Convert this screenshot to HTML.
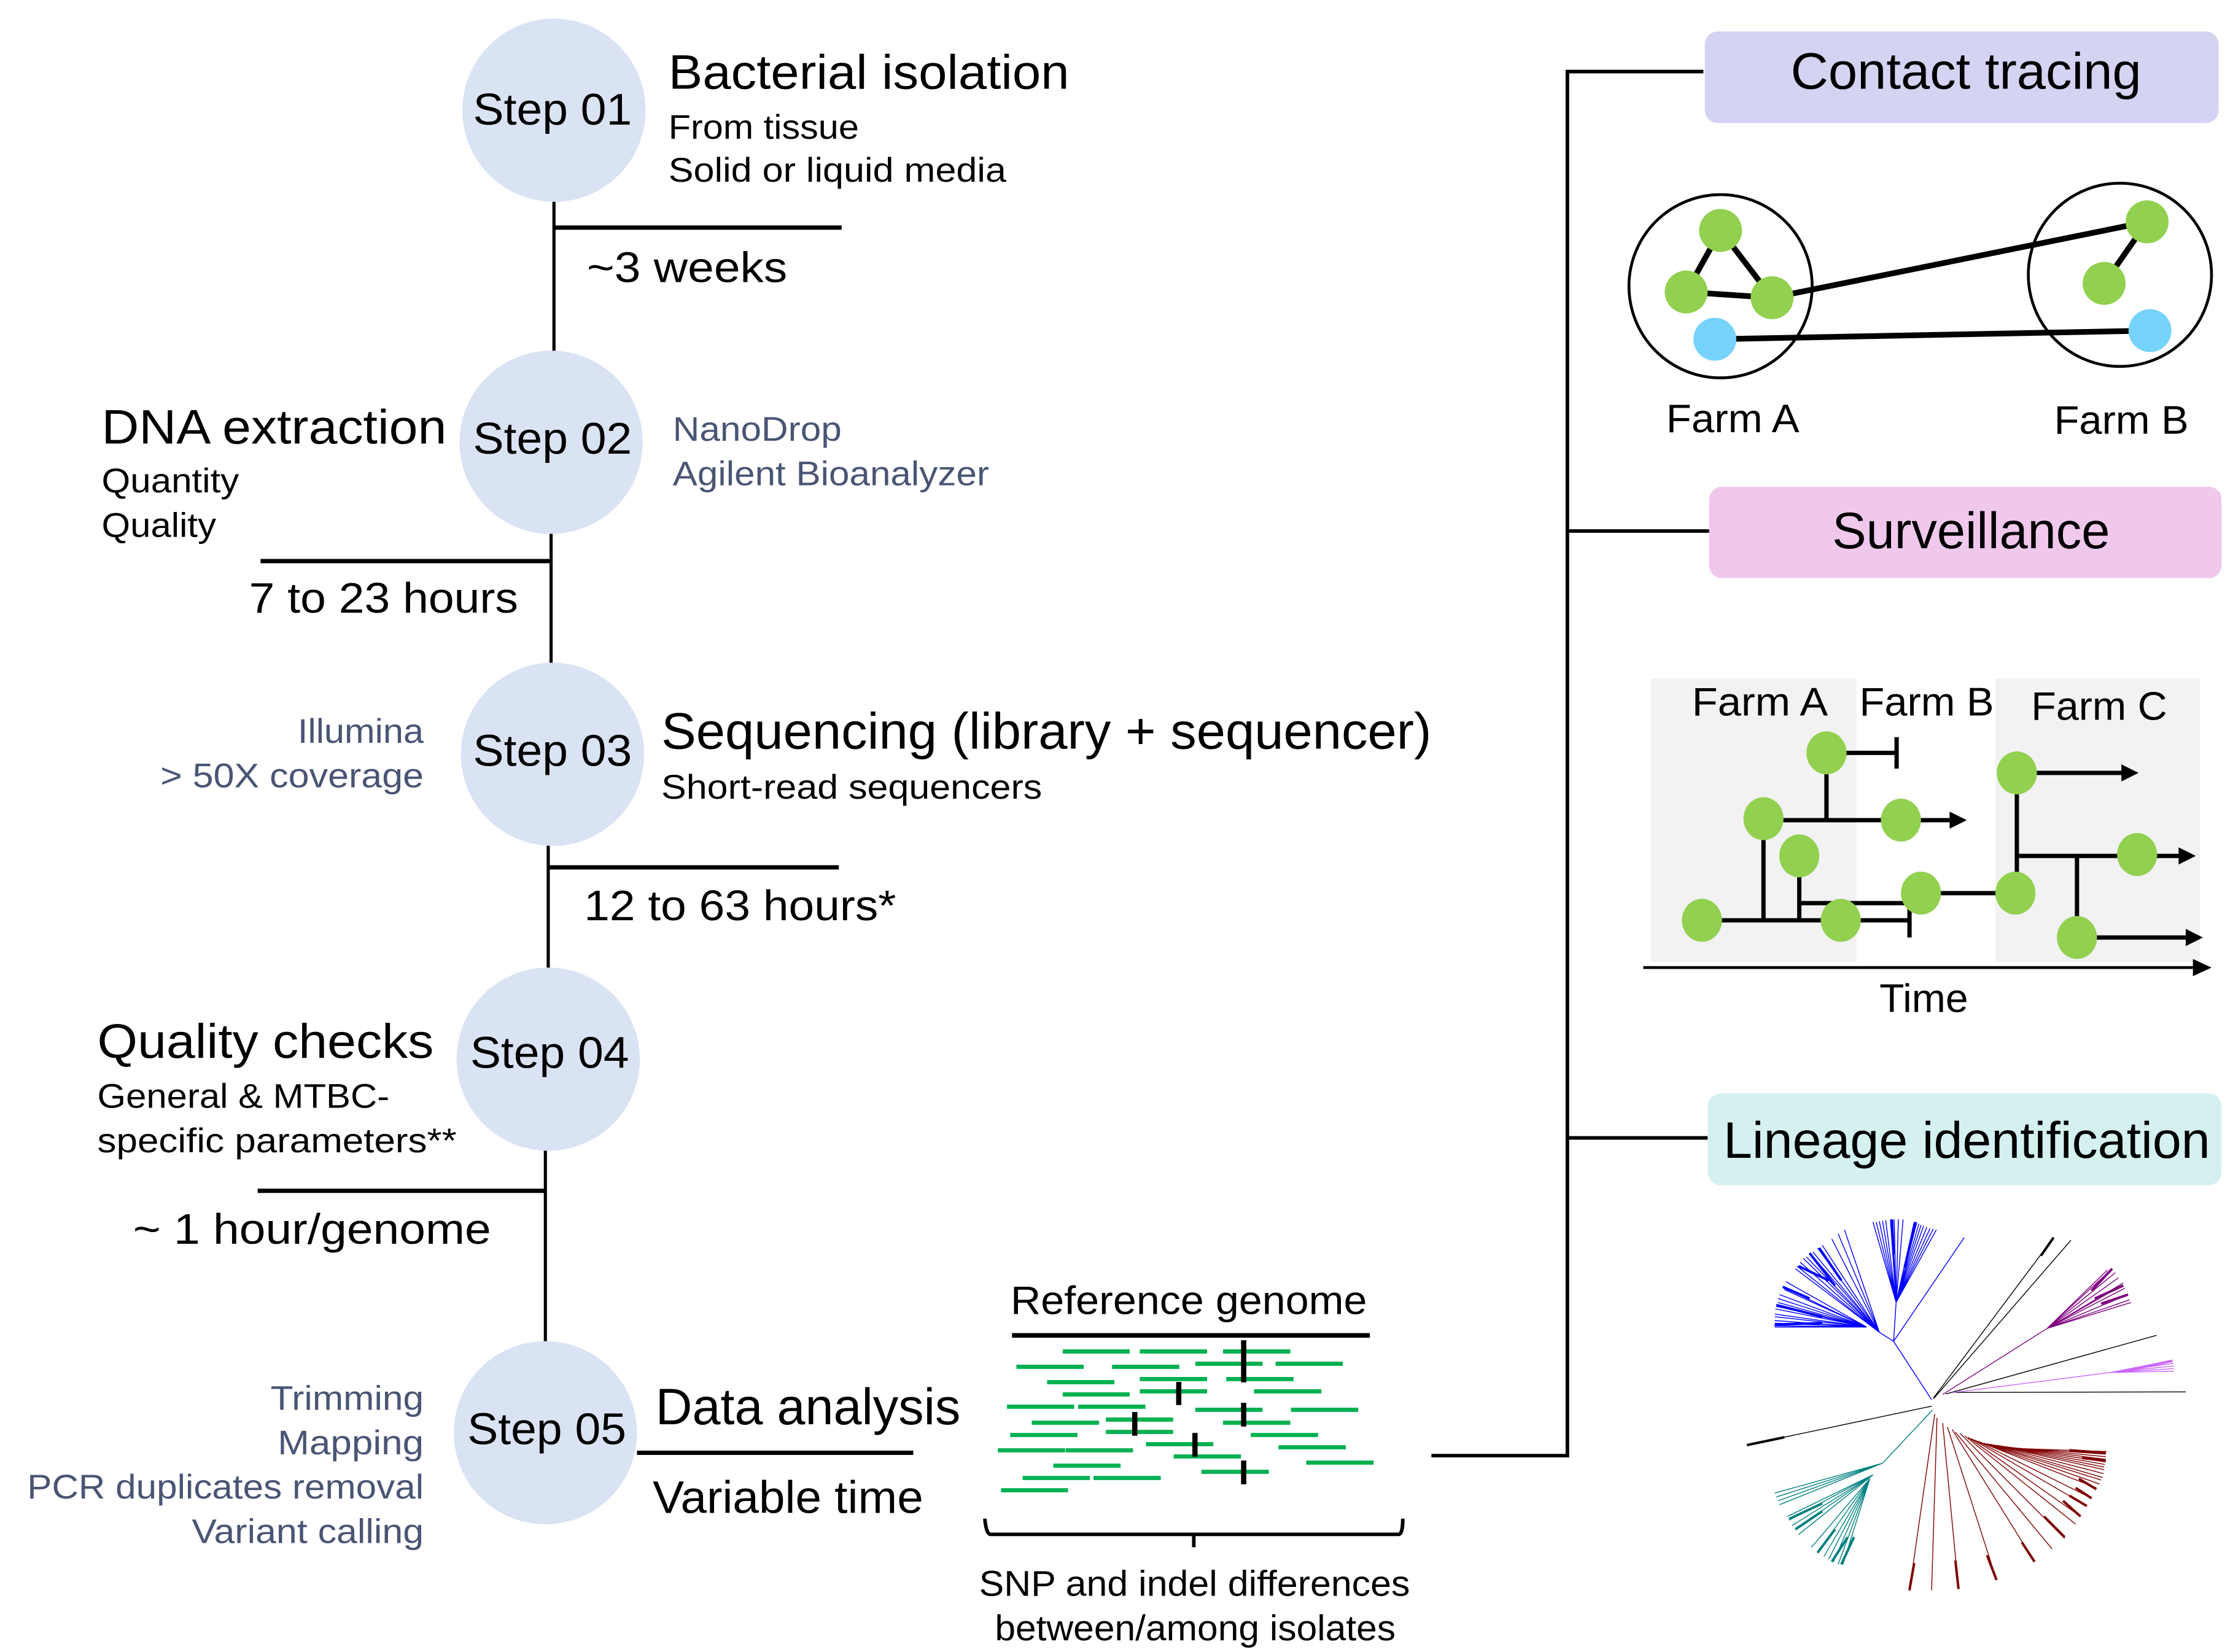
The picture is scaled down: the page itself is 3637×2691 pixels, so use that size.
<!DOCTYPE html>
<html><head><meta charset="utf-8"><style>
html,body{margin:0;padding:0;background:#fff;}
svg{display:block;}
text{font-family:"Liberation Sans",sans-serif;fill:#000;}
.sub{fill:#4a5575;}
</style></head><body>
<svg width="3637" height="2691" viewBox="0 0 1560 1154.2" preserveAspectRatio="none" xmlns="http://www.w3.org/2000/svg">
<rect width="1560" height="1155" fill="#fff"/>
<g stroke="#000" stroke-width="2.2" fill="none">
<line x1="387" y1="140" x2="387" y2="246"/>
<line x1="385" y1="372" x2="385" y2="464"/>
<line x1="383" y1="590" x2="383" y2="677"/>
<line x1="381" y1="803" x2="381" y2="938"/>
</g>
<g stroke="#000" stroke-width="3" fill="none">
<line x1="387" y1="159" x2="588" y2="159"/>
<line x1="182" y1="392" x2="385" y2="392"/>
<line x1="383" y1="606" x2="586" y2="606"/>
<line x1="180" y1="832" x2="381" y2="832"/>
<line x1="445" y1="1015" x2="638" y2="1015"/>
</g>
<g fill="#dae3f3">
<circle cx="387" cy="77" r="64"/>
<circle cx="385" cy="309" r="64"/>
<circle cx="386" cy="527" r="64"/>
<circle cx="383" cy="740" r="64"/>
<circle cx="381" cy="1001" r="64"/>
</g>
<g font-size="31" text-anchor="middle" lengthAdjust="spacingAndGlyphs">
<text x="386" y="87" textLength="111" lengthAdjust="spacingAndGlyphs">Step 01</text>
<text x="386" y="317" textLength="111" lengthAdjust="spacingAndGlyphs">Step 02</text>
<text x="386" y="535" textLength="111" lengthAdjust="spacingAndGlyphs">Step 03</text>
<text x="384" y="746" textLength="111" lengthAdjust="spacingAndGlyphs">Step 04</text>
<text x="382" y="1009" textLength="111" lengthAdjust="spacingAndGlyphs">Step 05</text>
</g>
<text x="467" y="62" font-size="34" textLength="280" lengthAdjust="spacingAndGlyphs">Bacterial isolation</text>
<text x="467" y="97" font-size="24" textLength="133" lengthAdjust="spacingAndGlyphs">From tissue</text>
<text x="467" y="127" font-size="24" textLength="236" lengthAdjust="spacingAndGlyphs">Solid or liquid media</text>
<text x="410" y="197" font-size="30" textLength="140" lengthAdjust="spacingAndGlyphs">~3 weeks</text>
<text x="71" y="310" font-size="34" textLength="241" lengthAdjust="spacingAndGlyphs">DNA extraction</text>
<text x="71" y="344" font-size="24" textLength="96" lengthAdjust="spacingAndGlyphs">Quantity</text>
<text x="71" y="375" font-size="24" textLength="80" lengthAdjust="spacingAndGlyphs">Quality</text>
<text x="470" y="308" font-size="24" class="sub" textLength="118" lengthAdjust="spacingAndGlyphs">NanoDrop</text>
<text x="470" y="339" font-size="24" class="sub" textLength="221" lengthAdjust="spacingAndGlyphs">Agilent Bioanalyzer</text>
<text x="174" y="428" font-size="30" textLength="188" lengthAdjust="spacingAndGlyphs">7 to 23 hours</text>
<text x="208" y="519" font-size="24" class="sub" textLength="88" lengthAdjust="spacingAndGlyphs">Illumina</text>
<text x="112" y="550" font-size="24" class="sub" textLength="184" lengthAdjust="spacingAndGlyphs">&gt; 50X coverage</text>
<text x="462" y="523" font-size="36" textLength="538" lengthAdjust="spacingAndGlyphs">Sequencing (library + sequencer)</text>
<text x="462" y="558" font-size="24" textLength="266" lengthAdjust="spacingAndGlyphs">Short-read sequencers</text>
<text x="408" y="643" font-size="30" textLength="218" lengthAdjust="spacingAndGlyphs">12 to 63 hours*</text>
<text x="68" y="739" font-size="34" textLength="235" lengthAdjust="spacingAndGlyphs">Quality checks</text>
<text x="68" y="774" font-size="24" textLength="204" lengthAdjust="spacingAndGlyphs">General &amp; MTBC-</text>
<text x="68" y="805" font-size="24" textLength="251" lengthAdjust="spacingAndGlyphs">specific parameters**</text>
<text x="93" y="869" font-size="30" textLength="250" lengthAdjust="spacingAndGlyphs">~ 1 hour/genome</text>
<g font-size="24">
<text x="189" y="985" class="sub" textLength="107" lengthAdjust="spacingAndGlyphs">Trimming</text>
<text x="194" y="1016" class="sub" textLength="102" lengthAdjust="spacingAndGlyphs">Mapping</text>
<text x="19" y="1047" class="sub" textLength="277" lengthAdjust="spacingAndGlyphs">PCR duplicates removal</text>
<text x="134" y="1078" class="sub" textLength="162" lengthAdjust="spacingAndGlyphs">Variant calling</text>
</g>
<text x="458" y="995" font-size="36" textLength="213" lengthAdjust="spacingAndGlyphs">Data analysis</text>
<text x="456" y="1057" font-size="32" textLength="189" lengthAdjust="spacingAndGlyphs">Variable time</text>
<text x="706" y="918" font-size="28" textLength="249" lengthAdjust="spacingAndGlyphs">Reference genome</text>
<line x1="707" y1="933" x2="957" y2="933" stroke="#000" stroke-width="3.2"/>
<g transform="translate(677.7,879.3) scale(0.2062,0.143)" stroke="#00b050" stroke-width="6.8" fill="none">
<path vector-effect="non-scaling-stroke" d="M314 454H541M575 454H803M857 454H1085M157 529H385M481 529H709M763 514H991M1035 514H1263M261 604H489M575 589H803M868 589H1096M314 664H541M575 649H803M962 649H1190M125 724H353M366 724H594M763 739H991M1087 739H1315M209 802H437M460 787H688M857 802H1085M136 862H364M460 847H688M951 862H1179M596 907H824M94 937H322M324 937H552M1045 922H1273M690 967H918M282 1012H510M1139 997H1367M784 1042H1012M178 1072H406M418 1072H646M105 1132H332"/>
<path vector-effect="non-scaling-stroke" stroke="#000" stroke-width="8.5" d="M927 399V605M707 603V716M927 705V821M558 750V866M762 852V968M927 987V1103"/>
</g>
<path d="M688 1061 Q689 1072 692 1072 H977 Q980 1072 980 1061 M834 1072V1081" stroke="#000" stroke-width="2.5" fill="none"/>
<text x="684" y="1115" font-size="25" textLength="301" lengthAdjust="spacingAndGlyphs">SNP and indel differences</text>
<text x="695" y="1146" font-size="25" textLength="280" lengthAdjust="spacingAndGlyphs">between/among isolates</text>
<g stroke="#000" stroke-width="2.5" fill="none">
<path d="M1000 1017H1095V50H1190M1095 371H1195M1095 795H1193"/>
</g>
<rect x="1191" y="22" width="359" height="64" rx="9" fill="#d5d3f2"/>
<text x="1251" y="62" font-size="36" textLength="245" lengthAdjust="spacingAndGlyphs">Contact tracing</text>
<rect x="1194" y="340" width="358" height="64" rx="9" fill="#f0c8ec"/>
<text x="1280" y="383" font-size="36" textLength="194" lengthAdjust="spacingAndGlyphs">Surveillance</text>
<rect x="1193" y="764" width="359" height="64" rx="9" fill="#d4f1f0"/>
<text x="1204" y="809" font-size="36" textLength="340" lengthAdjust="spacingAndGlyphs">Lineage identification</text>
<circle cx="1202" cy="200" r="64" fill="none" stroke="#000" stroke-width="2"/>
<circle cx="1481" cy="192" r="64" fill="none" stroke="#000" stroke-width="2"/>
<g stroke="#000" stroke-width="4" fill="none">
<path d="M1202 161L1178 204M1202 161L1238 208M1178 204L1238 208M1238 208L1500 155M1470 198L1500 155M1198 237L1502 231"/>
</g>
<g fill="#92d050">
<circle cx="1202" cy="161" r="15"/><circle cx="1178" cy="204" r="15"/><circle cx="1238" cy="208" r="15"/>
<circle cx="1500" cy="155" r="15"/><circle cx="1470" cy="198" r="15"/>
</g>
<g fill="#76d3fb"><circle cx="1198" cy="237" r="15"/><circle cx="1502" cy="231" r="15"/></g>
<text x="1164" y="302" font-size="28" textLength="93" lengthAdjust="spacingAndGlyphs">Farm A</text>
<text x="1435" y="303" font-size="28" textLength="94" lengthAdjust="spacingAndGlyphs">Farm B</text>
<rect x="1153" y="474" width="144" height="198" fill="#f2f2f2"/>
<rect x="1394" y="474" width="143" height="198" fill="#f2f2f2"/>
<text x="1182" y="500" font-size="28" textLength="95" lengthAdjust="spacingAndGlyphs">Farm A</text>
<text x="1299" y="500" font-size="28" textLength="94" lengthAdjust="spacingAndGlyphs">Farm B</text>
<text x="1419" y="503" font-size="28" textLength="95" lengthAdjust="spacingAndGlyphs">Farm C</text>
<g stroke="#000" stroke-width="3" fill="none">
<path d="M1276 526H1325M1325 515V537M1232 573H1362M1276 526V573M1232 572V643M1189 643H1334M1334 632V655M1257 598V643M1257 631H1342M1342 624H1408M1409 540V624M1409 540H1482M1409 598H1522M1451 598V655M1451 655H1527"/>
<path d="M1148 676H1532" stroke-width="2"/>
</g>
<g fill="#000">
<path d="M1362 567L1374 573L1362 579Z"/>
<path d="M1482 534L1494 540L1482 546Z"/>
<path d="M1522 592L1534 598L1522 604Z"/>
<path d="M1527 649L1539 655L1527 661Z"/>
<path d="M1532 670L1545 676L1532 682Z"/>
</g>
<g fill="#92d050">
<ellipse cx="1276" cy="526" rx="14" ry="15"/><ellipse cx="1232" cy="572" rx="14" ry="15"/>
<ellipse cx="1328" cy="573" rx="14" ry="15"/><ellipse cx="1257" cy="598" rx="14" ry="15"/>
<ellipse cx="1342" cy="624" rx="14" ry="15"/><ellipse cx="1189" cy="643" rx="14" ry="15"/>
<ellipse cx="1286" cy="643" rx="14" ry="15"/><ellipse cx="1409" cy="540" rx="14" ry="15"/>
<ellipse cx="1493" cy="597" rx="14" ry="15"/><ellipse cx="1408" cy="624" rx="14" ry="15"/>
<ellipse cx="1451" cy="655" rx="14" ry="15"/>
</g>
<text x="1313" y="707" font-size="28" textLength="62" lengthAdjust="spacingAndGlyphs">Time</text>
<g transform="translate(1206.7,840.2) scale(0.2213,0.1812)" fill="none" stroke-width="1.4">
<path vector-effect="non-scaling-stroke" stroke="#0000ff" d="M645 760L525 535M525 535L748 135M525 535L533 385M533 385L460 75M533 385L470 75M533 385L480 72M533 385L490 70M533 385L500 68M533 385L515 65M533 385L520 65M533 385L527 65M533 385L540 65M533 385L555 65M533 385L590 75M533 385L598 78M533 385L605 82M533 385L612 86M533 385L620 90M533 385L630 95M533 385L640 100M533 385L650 102M533 385L660 105M525 535L480 500M480 500L370 105M480 500L350 120M480 500L330 140M480 500L300 165M480 500L285 175M480 500L270 190M480 500L260 195M480 500L250 210M480 500L240 215M480 500L230 230M480 500L220 245M480 500L215 255M440 480L185 305M440 480L175 325M440 480L180 335M440 480L165 355M440 480L160 370M440 480L160 385M440 480L155 395M440 480L155 400M440 480L152 410M440 480L150 430M440 480L150 440M440 480L150 455M440 480L150 465M440 480L148 475M440 480L150 480"/>
<path vector-effect="non-scaling-stroke" stroke="#0000ff" stroke-width="4" d="M155 395L300 440M150 470L300 465M175 325L260 370M290 175L360 300M260 195L340 320M225 245L320 300M520 65L525 200M595 75L560 250"/>
<path vector-effect="non-scaling-stroke" stroke="#000" d="M650 755L1030 135M652 755L1085 145M690 738L1355 512M720 732L1447 730M645 785L62 935"/>
<path vector-effect="non-scaling-stroke" stroke="#000" stroke-width="4" d="M62 935L180 905M1030 135L990 205"/>
<path vector-effect="non-scaling-stroke" stroke="#800080" d="M680 740L1010 485M1010 485L1200 260M1010 485L1215 255M1010 485L1225 270M1010 485L1235 290M1010 485L1245 320M1010 485L1250 310M1010 485L1255 330M1010 485L1265 355M1010 485L1270 375M1010 485L1275 385"/>
<path vector-effect="non-scaling-stroke" stroke="#800080" stroke-width="4" d="M1215 255L1150 340M1250 320L1160 370M1265 355L1180 390"/>
<path vector-effect="non-scaling-stroke" stroke="#cc66ff" d="M715 732L1210 655M1210 655L1405 608M1210 655L1408 620M1210 655L1410 630M1210 655L1410 640M1210 655L1410 650"/>
<path vector-effect="non-scaling-stroke" stroke="#cc66ff" stroke-width="4" d="M1405 610L1260 648"/>
<path vector-effect="non-scaling-stroke" stroke="#008080" d="M648 800L490 1005M490 1005L150 1120M490 1005L155 1135M490 1005L160 1150M490 1005L165 1165M460 1050L190 1210M460 1050L195 1225M460 1050L205 1245M460 1050L215 1260M460 1050L225 1280M450 1065L265 1330M450 1065L285 1350M450 1065L305 1365M450 1065L320 1375M450 1065L335 1385M450 1065L350 1395M450 1065L365 1395"/>
<path vector-effect="non-scaling-stroke" stroke="#008080" stroke-width="4" d="M195 1220L300 1160M215 1260L300 1190M285 1350L340 1260M330 1385L380 1290M360 1395L400 1290"/>
<path vector-effect="non-scaling-stroke" stroke="#800000" d="M655 815L575 1495M662 830L645 1495M680 850L730 1490M695 865L850 1455M710 875L970 1385M720 885L1025 1335M735 890L1065 1295M750 900L1100 1240M760 905L1115 1210M770 910L1135 1170M780 915L1150 1140M790 920L1165 1100M800 925L1175 1085M810 928L1180 1070M820 930L1185 1060M830 932L1188 1045M840 934L1190 1030M850 936L1190 1020M860 938L1192 1010M870 940L1195 1000M880 942L1195 990M890 944L1195 980M900 946L1195 970M910 948L1198 960"/>
<path vector-effect="non-scaling-stroke" stroke="#800000" stroke-width="4" d="M1195 965L1080 955M1195 995L1120 985M1165 1105L1110 1065M1150 1140L1100 1100M1135 1170L1080 1130M1115 1210L1060 1150M1065 1290L1000 1210M970 1385L930 1310M850 1455L820 1360M730 1490L720 1380M575 1495L590 1390"/>
</g>
</svg>
</body></html>
